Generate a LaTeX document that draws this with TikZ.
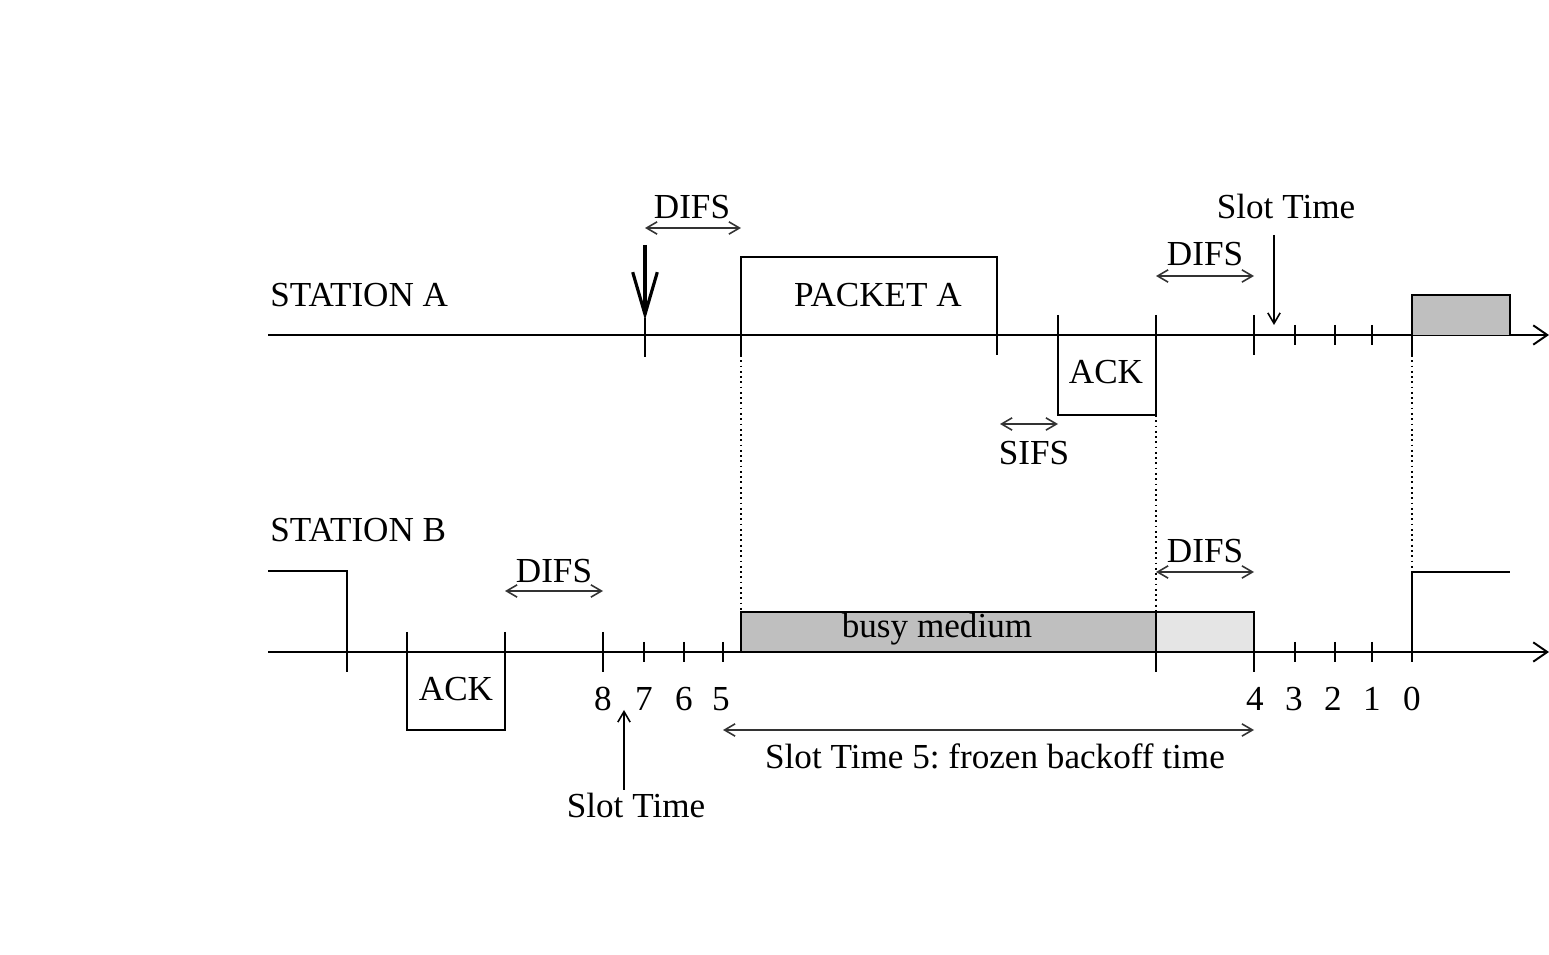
\documentclass[tikz,border=0pt]{standalone}
\usepackage{fontspec}
\setmainfont{Liberation Serif}
\usetikzlibrary{arrows.meta}
\tikzset{
  lbl/.style={font=\fontsize{20}{24}\selectfont, inner sep=0pt, anchor=base},
  timeline/.style={line width=1.1pt, -{Straight Barb[length=8pt,width=11pt]}},
  tick/.style={line width=1.1pt},
  span/.style={line width=0.9pt, black!80, {Straight Barb[length=6pt,width=7pt]}-{Straight Barb[length=6pt,width=7pt]}},
  pointer/.style={line width=0.9pt, -{Straight Barb[length=6pt,width=7pt]}},
  guide/.style={dotted, line width=1pt},
  frame/.style={draw, line width=1.1pt}
}
\frenchspacing
\begin{document}
\begin{tikzpicture}[x=0.02cm, y=-0.02cm]
  \useasboundingbox (0,0) rectangle (1549,955);
  % Station A
  \node[lbl, anchor=base west] (staA) at (270,307) {STATION A};
  \coordinate (a0) at (268,335);
  \coordinate (aend) at (1549,335);
  \draw[timeline] (a0) -- (aend);
  \draw[frame] (741,335) -- (741,257) -- (997,257) -- (997,335);
  \node[lbl] (pktA) at (878,307) {PACKET A};
  \draw[frame] (1058,335) rectangle (1156,415);
  \node[lbl] (ackA) at (1106,384) {ACK};
  \draw[frame, fill=black!25] (1412,335) -- (1412,295) -- (1510,295) -- (1510,335);
  % ticks A
  \draw[tick] (645,318) -- (645,357);
  \draw[tick] (741,335) -- (741,355);
  \draw[tick] (997,335) -- (997,355);
  \draw[tick] (1058,315) -- (1058,335);
  \draw[tick] (1156,315) -- (1156,335);
  \draw[tick] (1254,315) -- (1254,355);
  \draw[tick] (1412,335) -- (1412,355);
  \foreach \x in {1295,1335,1372}
    \draw[tick] (\x,325) -- (\x,345);
  % arrival at A
  \coordinate (arrA) at (645,245);
  \coordinate (hitA) at (645,320);
  \draw[line width=1.8pt, -{Straight Barb[length=24pt,width=14pt]}] (arrA) -- (hitA);
  % intervals A
  \node[lbl] (difsA1) at (692,219) {DIFS};
  \coordinate (d1l) at (645,228);
  \coordinate (d1r) at (741,228);
  \draw[span] (d1l) -- (d1r);
  \node[lbl] (sifsA) at (1034,465) {SIFS};
  \coordinate (s1l) at (1000,424);
  \coordinate (s1r) at (1058,424);
  \draw[span] (s1l) -- (s1r);
  \node[lbl] (difsA2) at (1205,266) {DIFS};
  \coordinate (d2l) at (1156,276);
  \coordinate (d2r) at (1254,276);
  \draw[span] (d2l) -- (d2r);
  \node[lbl] (slotA) at (1286,219) {Slot Time};
  \coordinate (slA1) at (1274,235);
  \coordinate (slA2) at (1274,325);
  \draw[pointer] (slA1) -- (slA2);
  % guides
  \draw[guide] (741,355) -- (741,612);
  \draw[guide] (1156,415) -- (1156,612);
  \draw[guide] (1412,355) -- (1412,572);

  % Station B
  \node[lbl, anchor=base west] (staB) at (270,542) {STATION B};
  \coordinate (b0) at (268,652);
  \coordinate (bend) at (1549,652);
  \draw[timeline] (b0) -- (bend);
  \draw[frame] (268,571) -- (347,571) -- (347,652);
  \draw[frame] (407,652) rectangle (505,730);
  \node[lbl] (ackB) at (456,701) {ACK};
  \draw[frame, fill=black!25] (741,612) rectangle (1156,652);
  \node[lbl] (busy) at (937,638) {busy medium};
  \draw[frame, fill=black!10] (1156,612) rectangle (1254,652);
  \draw[frame] (1412,652) -- (1412,572) -- (1510,572);
  % ticks B
  \draw[tick] (347,652) -- (347,672);
  \draw[tick] (407,632) -- (407,652);
  \draw[tick] (505,632) -- (505,652);
  \draw[tick] (603,632) -- (603,672);
  \draw[tick] (1156,652) -- (1156,672);
  \draw[tick] (1254,652) -- (1254,672);
  \draw[tick] (1412,652) -- (1412,662);
  \foreach \x in {644,684,723,1295,1335,1372}
    \draw[tick] (\x,642) -- (\x,662);
  % backoff counter
  \foreach \x/\n in {603/8,644/7,684/6,721/5,1255/4,1294/3,1333/2,1372/1,1412/0}
    \node[lbl] (cnt\n) at (\x,711) {\n};
  % intervals B
  \node[lbl] (difsB1) at (554,583) {DIFS};
  \coordinate (d3l) at (505,591);
  \coordinate (d3r) at (603,591);
  \draw[span] (d3l) -- (d3r);
  \node[lbl] (difsB2) at (1205,563) {DIFS};
  \coordinate (d4l) at (1156,572);
  \coordinate (d4r) at (1254,572);
  \draw[span] (d4l) -- (d4r);
  \coordinate (frl) at (723,730);
  \coordinate (frr) at (1254,730);
  \draw[span] (frl) -- (frr);
  \node[lbl] (frozen) at (995,769) {Slot Time 5: frozen backoff time};
  \node[lbl] (slotB) at (636,818) {Slot Time};
  \coordinate (slB1) at (624,790);
  \coordinate (slB2) at (624,710);
  \draw[pointer] (slB1) -- (slB2);
\end{tikzpicture}
\end{document}
